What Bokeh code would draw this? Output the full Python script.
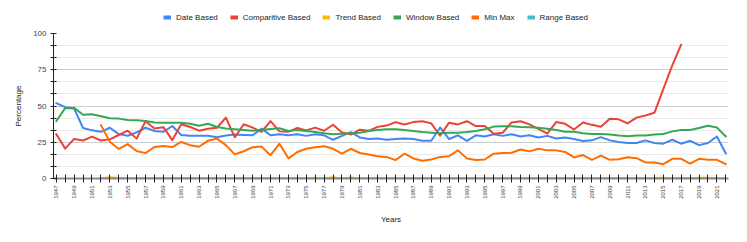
import math
from bokeh.plotting import figure
from bokeh.layouts import column
from bokeh.models import Range1d, FixedTicker, Legend, LegendItem, ColumnDataSource
from bokeh.embed import file_html
from bokeh.resources import INLINE

NAN = float("nan")

years = list(range(1947, 2023))

date_based = [52, 49.2, 48.2, 34.8, 33.2, 32.2, 35, 30.6, 29.5, 31.8,
              35, 32.8, 32.2, 36.2, 30, 29.5, 29.5, 29.5, 28.4, 29.7,
              30.3, 30, 29.8, 34.4, 29.8, 30.5, 29.8, 30.5, 29.4, 30.5,
              29.8, 26.7, 29.4, 32, 28.3, 27.2, 27.6, 26.7, 27.2, 27.6,
              27.2, 26, 26, 35.2, 27.2, 29.8, 26, 29.8, 29, 30.5,
              29.4, 30.5, 29, 29.8, 28.3, 29.4, 27.6, 28.3, 27.3, 25.8,
              26.3, 28.5, 26.3, 25.2, 24.5, 24.5, 26.3, 24.5, 24, 26.7,
              24, 26, 23, 24.5, 29, 17.3]

comparitive_based = [30.6, 20.6, 27.3, 26.2, 28.9, 26.2, 27, 30, 33, 27.5,
                     39.5, 34.5, 35.4, 26.5, 37.4, 35.5, 33, 34.3, 35, 42,
                     28.4, 37.4, 35.1, 32.2, 39.6, 32.5, 32.2, 34.8, 33.2, 35.1,
                     32.9, 37.1, 31.8, 30.3, 33.7, 32.9, 35.6, 36.5, 38.9, 37.3,
                     38.9, 39.5, 38, 29.5, 38.5, 37.3, 39.5, 36.2, 36.2, 30.8,
                     31.5, 38.7, 39.5, 37.3, 34.2, 31, 38.9, 37.7, 33.8, 38.6,
                     37, 35.7, 41.2, 40.8, 38, 42, 43.5, 45.3, 61.6, 78,
                     92.3, NAN, NAN, NAN, NAN, NAN]

trend_based = [NAN, NAN, NAN, NAN, NAN, 0, 0.8, 0.3, 0, 0,
               0, 0, 0.4, 0, 0, 0, 0, 0, 0, 0,
               0, 0, 0, 0, 0, 0, 0, 0, 0, 0.6,
               0, 0.8, 0, 0.7, 0, 0, 0.5, 0, 0, 0,
               0, 0, 0, 0, 0, 0, 0, 0, 0, 0,
               0, 0, 0, 0, 0, 0.4, 0, 0, 0, 0,
               0, 0, 0, 0, 0, 0, 0, 0.4, 0.5, 0,
               0, 0, 0.6, 0.6, 0, 0]

window_based = [39.5, 48.5, 48.7, 44, 44.3, 42.9, 41.5, 41.3, 40.4, 40.1,
                39.6, 38.6, 38.4, 38.4, 38.4, 37.7, 36.4, 37.8, 35.5, 34.5,
                34, 33.5, 32.9, 33.4, 34.2, 34.6, 32.8, 33.4, 32.7, 32,
                31.2, 30.6, 30.8, 31.2, 31.6, 32.7, 33.4, 33.9, 33.9, 33.4,
                32.7, 32, 31.6, 31.2, 31.6, 31.6, 32, 32.7, 33.9, 35.8,
                36, 36, 35.6, 35.4, 35, 34.3, 33.4, 32.3, 32.2, 31.2,
                30.7, 30.7, 30.3, 29.6, 29.2, 29.6, 29.6, 30.3, 30.7, 32.5,
                33.4, 33.4, 34.8, 36.4, 35.2, 29]

min_max = [NAN, NAN, NAN, NAN, NAN, 36.8, 25.3, 20.4, 23.7, 19,
           17.5, 21.7, 22.4, 21.7, 25.2, 23, 21.9, 26.1, 27.5, 23,
           16.6, 18.8, 21.6, 22, 16.1, 23.9, 13.9, 18.3, 20.5, 21.6,
           22.3, 20.5, 17.1, 20.5, 17.6, 16.5, 15.4, 14.9, 12.7, 17.1,
           13.8, 12.2, 13.1, 14.9, 15.4, 19.4, 13.8, 12.7, 13.1, 17.1,
           17.6, 17.8, 20, 18.7, 20.5, 19.4, 19.4, 18.3, 14.5, 16.2,
           12.9, 15.8, 12.9, 13.3, 14.6, 14, 11.1, 11.1, 9.9, 13.6,
           13.6, 10.2, 13.6, 12.9, 12.9, 9.9]

range_based = [NAN, NAN, NAN, NAN, NAN] + [0] * 71

series_names = ["Date Based", "Comparitive Based", "Trend Based",
                "Window Based", "Min Max", "Range Based"]
series_values = [date_based, comparitive_based, trend_based,
                 window_based, min_max, range_based]
series_colors = ["#4285F4", "#EA4335", "#FBBC04", "#34A853", "#FF6D01", "#46BDC6"]

y_major = [0, 25, 50, 75, 100]
y_minor = [25 / 3 * k for k in range(13) if k % 3 != 0]

FONT = "Liberation Sans"

# ---- legend strip (separate small figure so nothing gets clipped) ----
lg = figure(width=731, height=26, output_backend="svg", toolbar_location=None,
            x_axis_type=None, y_axis_type=None,
            x_range=Range1d(1946.69, 2022.3), y_range=Range1d(0, 100),
            min_border=0, min_border_left=0, min_border_right=0,
            min_border_top=0, min_border_bottom=0)
lg.outline_line_color = None
lg.xgrid.grid_line_color = None
lg.ygrid.grid_line_color = None

# ---- main chart ----
p = figure(width=731, height=200, output_backend="svg", toolbar_location=None,
           x_range=Range1d(1946.69, 2022.3), y_range=Range1d(0, 100),
           min_border_left=53, min_border_right=3, min_border_top=7,
           min_border_bottom=44)
p.outline_line_color = None
p.background_fill_color = "white"

legend_items = []
for name, vals, col in zip(series_names, series_values, series_colors):
    src = ColumnDataSource(dict(x=years, y=vals))
    p.line("x", "y", source=src, line_color=col, line_width=2,
           line_join="round", line_cap="round")
    swatch = lg.line("x", "y", source=src, line_color=col, line_width=4,
                     visible=False)
    legend_items.append(LegendItem(label=name, renderers=[swatch]))

legend = Legend(items=legend_items, orientation="horizontal",
                location=(110, 4), label_text_font=FONT,
                label_text_font_size="8px", label_text_color="#222222",
                glyph_width=8, glyph_height=10, label_standoff=5, spacing=12,
                padding=0, margin=0, border_line_color=None,
                background_fill_alpha=0, inactive_fill_alpha=0,
                click_policy="none")
lg.add_layout(legend, "center")

# axes
xa = p.xaxis[0]
xa.ticker = FixedTicker(ticks=years)
xa.major_label_overrides = {y: (str(y) if (y - 1947) % 2 == 0 else "") for y in years}
xa.major_label_orientation = math.pi / 2
xa.major_label_text_font = FONT
xa.major_label_text_font_size = "6px"
xa.major_label_text_color = "#444444"
xa.major_label_standoff = 3
xa.major_tick_in = 4
xa.major_tick_out = 4
xa.major_tick_line_color = "#222222"
xa.minor_tick_line_color = None
xa.axis_line_color = "#888888"
xa.axis_line_width = 2
xa.axis_label = "Years"
xa.axis_label_text_font = FONT
xa.axis_label_text_font_size = "8px"
xa.axis_label_text_font_style = "normal"
xa.axis_label_text_color = "#222222"
xa.axis_label_standoff = 13

ya = p.yaxis[0]
ya.ticker = FixedTicker(ticks=y_major, minor_ticks=y_minor)
ya.major_label_text_font = FONT
ya.major_label_text_font_size = "8px"
ya.major_label_text_color = "#444444"
ya.major_label_standoff = 4
ya.major_tick_in = 3
ya.major_tick_out = 3
ya.minor_tick_in = 3
ya.minor_tick_out = 3
ya.major_tick_line_color = "#222222"
ya.minor_tick_line_color = "#222222"
ya.axis_line_color = "#222222"
ya.axis_label = "Percentage"
ya.axis_label_text_font = FONT
ya.axis_label_text_font_size = "8px"
ya.axis_label_text_font_style = "normal"
ya.axis_label_text_color = "#222222"
ya.axis_label_standoff = 7

p.xgrid.grid_line_color = None
p.ygrid.grid_line_color = "#cccccc"
p.ygrid.minor_grid_line_color = "#ebebeb"

layout = column(lg, p, spacing=0)
open("out.html", "w").write(file_html(layout, INLINE))
